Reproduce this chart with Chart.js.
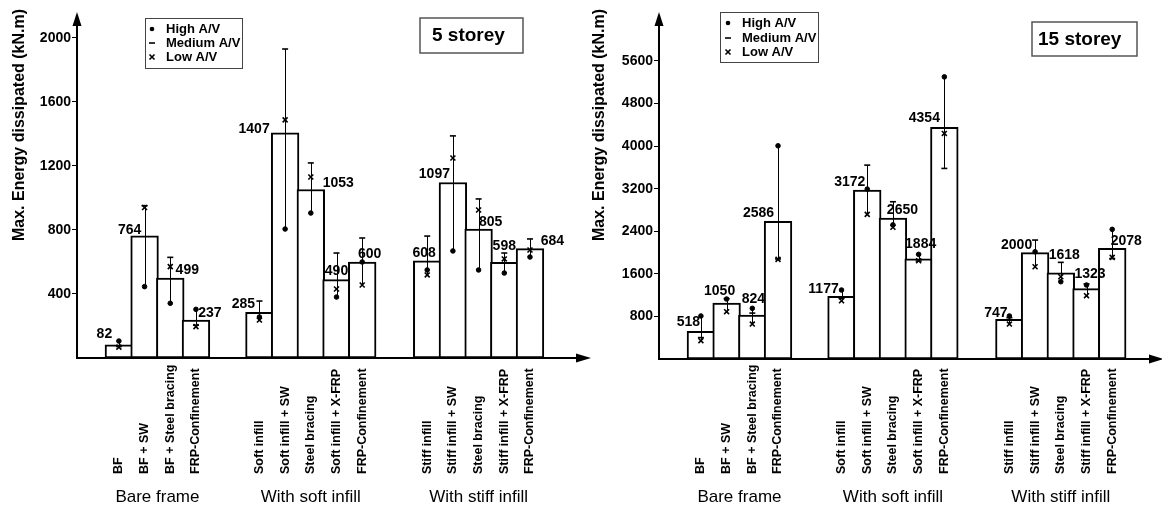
<!DOCTYPE html>
<html>
<head>
<meta charset="utf-8">
<script src="https://cdn.jsdelivr.net/npm/chart.js@4.4.1/dist/chart.umd.min.js"></script>
<style>
  html, body { margin: 0; padding: 0; background: #fff; }
  #wrap { position: relative; width: 1162px; height: 508px; overflow: hidden; }
  #c5 { position: absolute; left: 0; top: 0; }
  #c15 { position: absolute; left: 581px; top: 0; }
</style>
</head>
<body>
<div id="wrap">
  <canvas id="c5" width="600" height="508"></canvas>
  <canvas id="c15" width="581" height="508"></canvas>
</div>
<script>
const FONT = "'Liberation Sans', Arial, Helvetica, sans-serif";

// Categories (same for both panels)
const categories = [
    'BF', 'BF + SW', 'BF + Steel bracing', 'FRP-Confinement',
    'Soft infill', 'Soft infill + SW', 'Steel bracing', 'Soft infill + X-FRP', 'FRP-Confinement',
    'Stiff infill', 'Stiff infill + SW', 'Steel bracing', 'Stiff infill + X-FRP', 'FRP-Confinement'
];
const categoryGroup = [0, 0, 0, 0, 1, 1, 1, 1, 1, 2, 2, 2, 2, 2];
const groupNames = ['Bare frame', 'With soft infill', 'With stiff infill'];

// 5 storey
const yTicks5 = [400, 800, 1200, 1600, 2000];
const mean5 = [82, 764, 499, 237, 285, 1407, 1053, 490, 600, 608, 1097, 805, 598, 684];
const high5 = [106, 446, 342, 304, 256, 806, 906, 381, 600, 550, 669, 550, 531, 631];
const medium5 = [72, 952, 629, 205, 356, 1931, 1219, 656, 750, 762, 1388, 994, 656, 744];
const low5 = [68, 940, 571, 196, 237, 1488, 1131, 431, 456, 519, 1250, 925, 619, 675];

// 15 storey
const yTicks15 = [800, 1600, 2400, 3200, 4000, 4800, 5600];
const mean15 = [518, 1050, 824, 2586, 1177, 3172, 2650, 1884, 4354, 747, 2000, 1618, 1323, 2078];
const high15 = [808, 1127, 952, 4006, 1296, 3193, 2520, 1966, 5301, 808, 2015, 1452, 1390, 2436];
const medium15 = [402, 1134, 863, 1880, 1140, 3643, 2955, 1840, 3581, 776, 2235, 1816, 1410, 1888];
const low15 = [344, 889, 657, 1872, 1095, 2717, 2475, 1846, 4238, 657, 1734, 1546, 1190, 1910];

// x layout: bars are one unit wide, groups start at these axis units
const groupStart = [1.13, 6.6, 13.13];
const positions = categories.map((c, i) => {
    const g = categoryGroup[i];
    const k = categoryGroup.slice(0, i).filter(v => v === g).length;
    return groupStart[g] + 0.5 + k;
});

// Panel layout / label nudges (pixels)
const panels = [
    {
        canvas: 'c5', title: '5 storey',
        mean: mean5, high: high5, medium: medium5, low: low5, yTicks: yTicks5,
        yMax: 2081, xMax: 19.46, axisLeft: 77, top: 25, bottom: 358, right: 577, width: 600,
        labelDx: [-14.5, -15, 17, 14, -16, -31, 27.5, 0, 7.5, -3, -18.5, 12, 0, 22.5],
        labelDy: [11, 6, 8, 7, 8, 4, 6, 8, 8, 8, 8, 7, 16, 7],
        legendBox: [145, 18, 97, 50], legendRows: [29, 43, 57], legendMarkX: 152, legendTextX: 166,
        storeyBox: [420, 18, 103, 35], storeyText: [432, 36],
        yTitle: [20, 125]
    },
    {
        canvas: 'c15', title: '15 storey',
        mean: mean15, high: high15, medium: medium15, low: low15, yTicks: yTicks15,
        yMax: 6276, xMax: 19.1, axisLeft: 78, top: 25, bottom: 359, right: 569, width: 581,
        labelDx: [-12.5, -7, 1, -19.5, -18, -17.5, 9.5, 2, -20, -13.5, -18.5, 3.5, 3.5, 14],
        labelDy: [9, 12, 16, 8, 7, 8, 8, 15, 9, 6, 7, 18, 14, 7],
        legendBox: [139, 12, 98, 50], legendRows: [23, 38, 52], legendMarkX: 147, legendTextX: 161,
        storeyBox: [451, 22, 105, 34], storeyText: [457, 40],
        yTitle: [19, 125]
    }
];

function drawMarker(ctx, style, x, y) {
    ctx.save();
    ctx.strokeStyle = '#000';
    ctx.fillStyle = '#000';
    ctx.lineWidth = 1.6;
    ctx.beginPath();
    if (style === 'circle') {
        ctx.arc(x, y, 2.3, 0, Math.PI * 2);
        ctx.fill();
    } else if (style === 'line') {
        ctx.moveTo(x - 3, y); ctx.lineTo(x + 3, y);
        ctx.stroke();
    } else {
        ctx.moveTo(x - 2.5, y - 2.5); ctx.lineTo(x + 2.5, y + 2.5);
        ctx.moveTo(x + 2.5, y - 2.5); ctx.lineTo(x - 2.5, y + 2.5);
        ctx.stroke();
    }
    ctx.restore();
}

function makeDecor(p) {
    return {
        id: 'decor',
        // error-bar stems, over the bars but under the markers
        afterDatasetDraw(chart, args) {
            if (args.index !== 0) return;
            const { ctx, scales: { x, y } } = chart;
            ctx.save();
            ctx.strokeStyle = '#000';
            ctx.lineWidth = 1;
            p.high.forEach((h, i) => {
                const vals = [h, p.medium[i], p.low[i]];
                const px = Math.round(x.getPixelForValue(positions[i])) + 0.5;
                ctx.beginPath();
                ctx.moveTo(px, y.getPixelForValue(Math.max(...vals)));
                ctx.lineTo(px, y.getPixelForValue(Math.min(...vals)));
                ctx.stroke();
            });
            ctx.restore();
        },
        afterDraw(chart) {
            const { ctx, chartArea: a, scales: { x, y } } = chart;
            ctx.save();
            ctx.fillStyle = '#000';

            // axis arrows
            ctx.beginPath();
            ctx.moveTo(a.left, a.top - 13);
            ctx.lineTo(a.left - 4.5, a.top + 1);
            ctx.lineTo(a.left + 4.5, a.top + 1);
            ctx.closePath();
            ctx.fill();
            ctx.beginPath();
            ctx.moveTo(a.right + 14, a.bottom);
            ctx.lineTo(a.right - 1, a.bottom - 4.5);
            ctx.lineTo(a.right - 1, a.bottom + 4.5);
            ctx.closePath();
            ctx.fill();

            // value labels
            ctx.font = `bold 14px ${FONT}`;
            ctx.textAlign = 'center';
            ctx.textBaseline = 'middle';
            p.mean.forEach((v, i) => {
                ctx.fillText(String(v),
                    x.getPixelForValue(positions[i]) + p.labelDx[i],
                    y.getPixelForValue(v) - p.labelDy[i]);
            });

            // category labels (rotated, bottom aligned)
            ctx.font = `bold 12.5px ${FONT}`;
            ctx.textAlign = 'left';
            categories.forEach((c, i) => {
                ctx.save();
                ctx.translate(x.getPixelForValue(positions[i]), 474);
                ctx.rotate(-Math.PI / 2);
                ctx.fillText(c, 0, 0);
                ctx.restore();
            });

            // group labels
            ctx.font = `17px ${FONT}`;
            ctx.textAlign = 'center';
            groupNames.forEach((g, gi) => {
                const idx = positions.filter((v, i) => categoryGroup[i] === gi);
                const cx = (x.getPixelForValue(idx[0]) + x.getPixelForValue(idx[idx.length - 1])) / 2;
                ctx.fillText(g, cx, 497);
            });

            // y axis title
            ctx.save();
            ctx.font = `bold 16px ${FONT}`;
            ctx.translate(p.yTitle[0], p.yTitle[1]);
            ctx.rotate(-Math.PI / 2);
            ctx.fillText('Max. Energy dissipated (kN.m)', 0, 0);
            ctx.restore();

            // legend box
            const lb = p.legendBox;
            ctx.strokeStyle = '#444';
            ctx.lineWidth = 1;
            ctx.strokeRect(lb[0] + 0.5, lb[1] + 0.5, lb[2], lb[3]);
            const legendItems = [['circle', 'High A/V'], ['line', 'Medium A/V'], ['crossRot', 'Low A/V']];
            ctx.font = `bold 13px ${FONT}`;
            ctx.textAlign = 'left';
            legendItems.forEach(([style, text], i) => {
                drawMarker(ctx, style, p.legendMarkX, p.legendRows[i]);
                ctx.fillStyle = '#000';
                ctx.fillText(text, p.legendTextX, p.legendRows[i]);
            });

            // storey box
            const sb = p.storeyBox;
            ctx.strokeStyle = '#555';
            ctx.lineWidth = 1.5;
            ctx.strokeRect(sb[0], sb[1], sb[2], sb[3]);
            ctx.font = `bold 19px ${FONT}`;
            ctx.fillText(p.title, p.storeyText[0], p.storeyText[1]);

            ctx.restore();
        }
    };
}

function makeChart(p) {
    const ctx = document.getElementById(p.canvas);
    const pts = vals => positions.map((x, i) => ({ x: x, y: vals[i] }));
    return new Chart(ctx, {
        type: 'bar',
        data: {
            datasets: [
                {
                    label: 'Mean',
                    data: pts(p.mean),
                    backgroundColor: '#fff',
                    borderColor: '#000',
                    borderWidth: 2,
                    borderSkipped: false,
                    barThickness: 27.7,
                    order: 3
                },
                {
                    type: 'scatter', label: 'High A/V', data: pts(p.high),
                    pointStyle: 'circle', pointRadius: 2.3, borderWidth: 1,
                    backgroundColor: '#000', borderColor: '#000', order: 0
                },
                {
                    type: 'scatter', label: 'Medium A/V', data: pts(p.medium),
                    pointStyle: 'line', pointRadius: 3, borderWidth: 1.6,
                    backgroundColor: '#000', borderColor: '#000', order: 0
                },
                {
                    type: 'scatter', label: 'Low A/V', data: pts(p.low),
                    pointStyle: 'crossRot', pointRadius: 3.5, borderWidth: 1.6,
                    backgroundColor: '#000', borderColor: '#000', order: 0
                }
            ]
        },
        options: {
            responsive: false,
            animation: false,
            layout: { padding: { left: 0, top: p.top, right: p.width - p.right, bottom: 0 } },
            plugins: {
                legend: { display: false },
                tooltip: { enabled: false }
            },
            scales: {
                x: {
                    type: 'linear',
                    offset: false,
                    min: 0,
                    max: p.xMax,
                    grid: { display: false, offset: false },
                    ticks: { display: false },
                    border: { display: true, color: '#000', width: 2 },
                    afterFit: s => { s.height = 508 - p.bottom; }
                },
                y: {
                    min: 0,
                    max: p.yMax,
                    afterBuildTicks: s => { s.ticks = p.yTicks.map(v => ({ value: v })); },
                    ticks: {
                        color: '#000',
                        padding: 1,
                        font: { family: FONT, size: 14, weight: 'bold' },
                        callback: v => String(v)
                    },
                    grid: { drawOnChartArea: false, drawTicks: true, tickLength: 5, color: '#000', lineWidth: 1 },
                    border: { display: true, color: '#000', width: 2 },
                    afterFit: s => { s.width = p.axisLeft; }
                }
            }
        },
        plugins: [makeDecor(p)]
    });
}

panels.forEach(makeChart);
</script>
</body>
</html>
